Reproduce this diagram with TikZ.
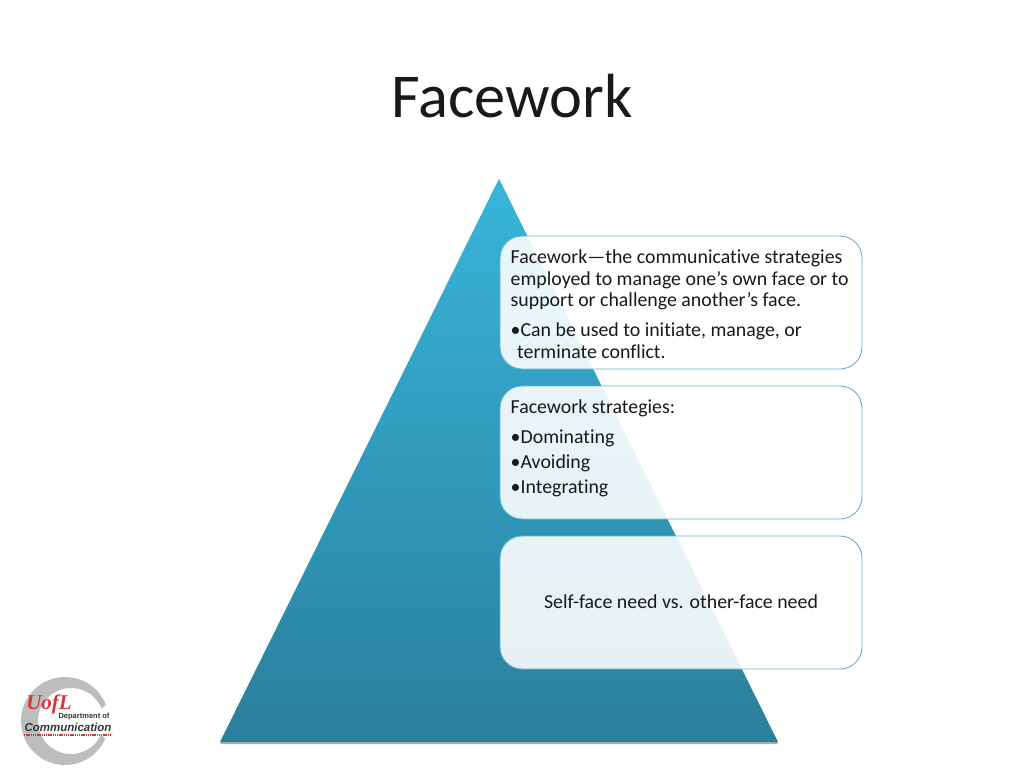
\documentclass[tikz,border=0pt]{standalone}
\usepackage{fontspec}
\setmainfont{Carlito}[Ligatures=NoCommon]
\newfontfamily\logofont{Liberation Sans}
\newfontfamily\logoserif{Liberation Serif}
\usepackage{tikz}
\usetikzlibrary{positioning}
\definecolor{pyrtop}{HTML}{38B5DB}
\definecolor{pyrbottom}{HTML}{2A7F9C}
\definecolor{boxline}{HTML}{62B3CB}
\definecolor{logogray}{HTML}{BDBDBD}
\definecolor{logored}{HTML}{D8353A}
\tikzstyle{infobox} = [rectangle, rounded corners=22pt, minimum width=362pt, minimum height=133pt, draw=boxline, line width=0.9pt, fill=white, fill opacity=0.89]
\tikzstyle{boxtext} = [anchor=north west, inner sep=0pt, align=left, font=\fontsize{19.85}{21.6}\selectfont, text=black!90]
\tikzstyle{logotext} = [inner sep=0pt, font=\logofont\bfseries, text=black!80]

\begin{document}
\begin{tikzpicture}[x=1pt, y=-1pt, node distance=150pt]
\useasboundingbox (0,0) rectangle (1024,768);
% Titolo
\node (title) [inner sep=0pt, font=\fontsize{62.4}{64}\selectfont, text=black!90] at (512,96) {Facework};

% Piramide
\coordinate (apex) at (499,179);
\coordinate (baseleft) at (220,742);
\coordinate (baseright) at (778,742);
\fill [black!45, opacity=0.7] ([yshift=-2pt]baseleft) -- ([yshift=-2pt]baseright) -- (apex) -- cycle;
\path [top color=pyrtop, bottom color=pyrbottom] (apex) -- (baseright) -- (baseleft) -- cycle;

% Riquadri
\node (box1) [infobox] at (681,302.5) {};
\node (box2) [infobox, below of=box1] {};
\node (box3) [infobox, below of=box2] {};

% Testi
\node (text1) [boxtext] at (510.5,249.5) {Facework—the communicative strategies\\employed to manage one’s own face or to\\support or challenge another’s face.};
\node (bullet1) [boxtext] at (510.5,322.5) {•Can be used to initiate, manage, or\\\hspace{6.5pt}terminate conflict.};
\node (text2) [boxtext] at (510.5,399.5) {Facework strategies:};
\node (bullet2) [boxtext] at (510.5,429.5) {•Dominating};
\node (bullet3) [boxtext] at (510.5,454.5) {•Avoiding};
\node (bullet4) [boxtext] at (510.5,479.5) {•Integrating};
\node (text3) [boxtext, anchor=center] at ([yshift=1pt]box3.center) {Self-face need vs. other-face need};

% Logo
\fill [logogray, even odd rule] (65,721) circle (44) (71,721) circle (33);
\fill [white] (87,721) -- (112,700) -- (112,745) -- cycle;
\node (logouofl) [inner sep=0pt, xscale=1.0, font=\logoserif\bfseries\itshape\fontsize{21}{21}\selectfont, text=logored] at (49,704) {UofL};
\node (logodept) [logotext, font=\logofont\bfseries\fontsize{7.5}{8}\selectfont] at (84,716.5) {Department of};
\node (logocomm) [logotext, font=\logofont\bfseries\itshape\fontsize{11.5}{12}\selectfont] at (68,727) {Communication};
\draw [logored, line width=2pt, dash pattern=on 1.3pt off 0.9pt] (24,734.5) -- (112,734.5);
\end{tikzpicture}
\end{document}
